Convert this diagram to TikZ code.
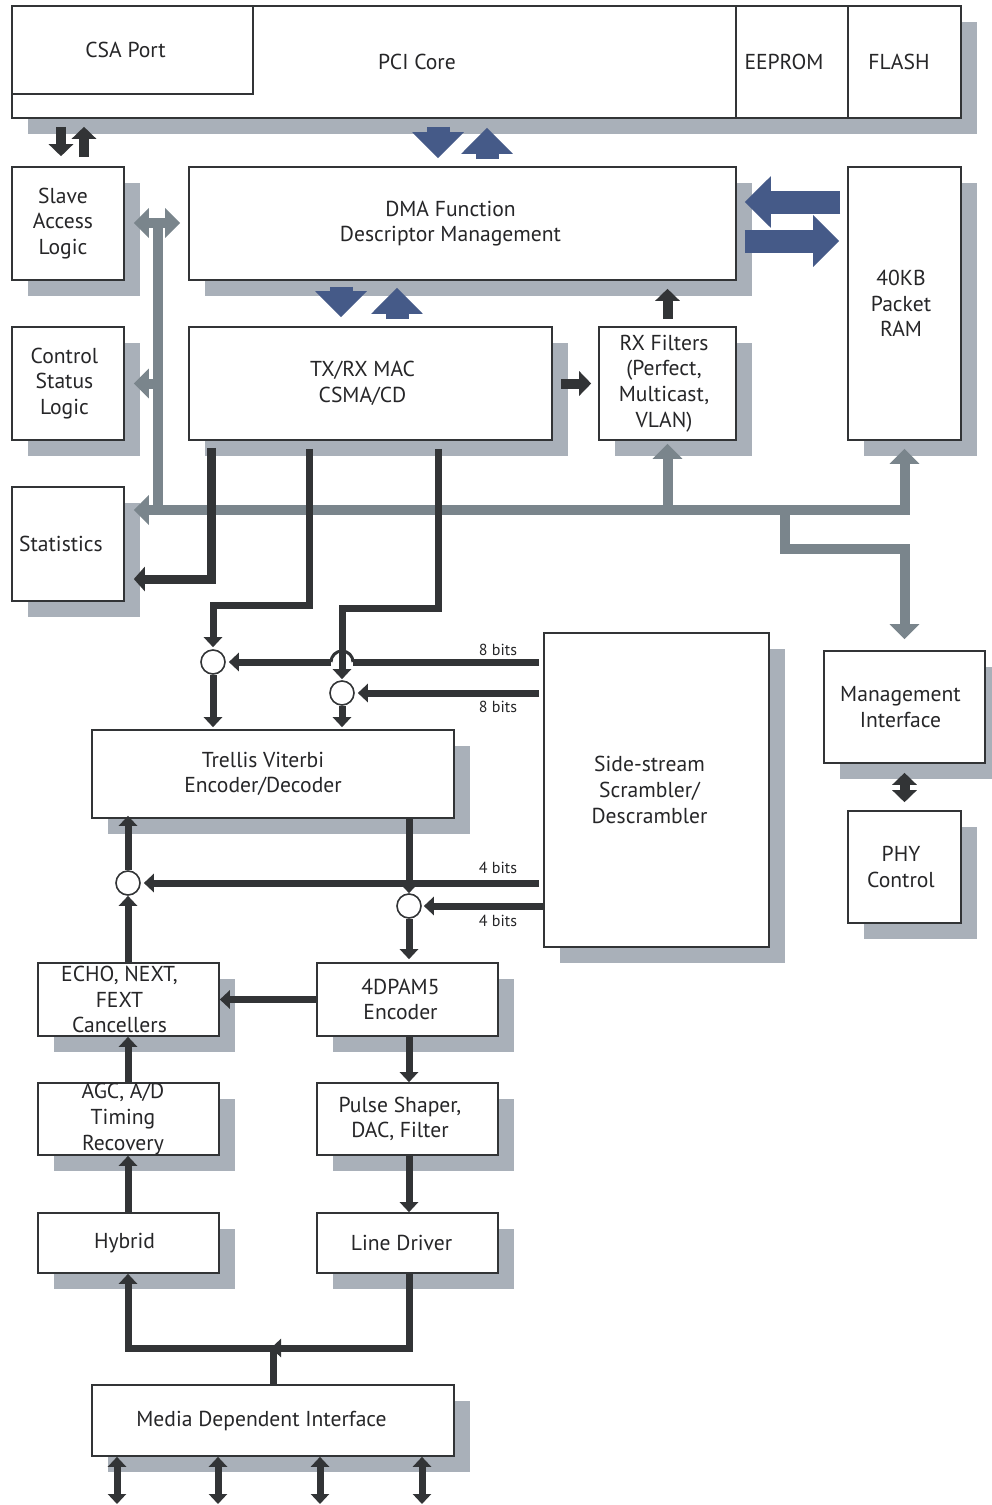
\documentclass[tikz,border=0pt]{standalone}
\usepackage{fontspec}
\setmainfont{PT Sans}
\usetikzlibrary{arrows.meta}
\usetikzlibrary{shadows}
\usetikzlibrary{calc}

\definecolor{shadowgray}{RGB}{169,176,185}
\definecolor{busgray}{RGB}{122,133,140}
\definecolor{pciblue}{RGB}{69,90,136}
\definecolor{wiredark}{RGB}{50,52,54}
\definecolor{inkdark}{RGB}{38,38,40}

\newcommand\blkfont{\fontsize{10.8}{12.8}\selectfont}
\newcommand\bitfont{\fontsize{8}{9.5}\selectfont}

\begin{document}
\begin{tikzpicture}[x=0.5pt,y=-0.5pt,
  blk/.style={draw=wiredark,line width=0.8pt,fill=white,inner sep=0pt},
  boxtext/.style={text=inkdark,align=center,font=\blkfont,inner sep=0pt},
  txt/.style 2 args={label={[boxtext,xshift=#1]center:{#2}}},
  shadowed/.style={drop shadow={shadow xshift=8pt,shadow yshift=-8pt,fill=shadowgray,opacity=1}},
  mux/.style={circle,draw=wiredark,line width=0.8pt,fill=white,minimum size=12pt,inner sep=0pt},
  bitlbl/.style={text=inkdark,font=\bitfont,inner sep=0pt},
  wire/.style={draw=wiredark,line width=3.5pt,line join=miter,>={Triangle[width=9pt,length=5pt]}},
  fatwire/.style={draw=wiredark,line width=5pt,>={Triangle[width=12pt,length=6pt]}},
  bus/.style={draw=busgray,line width=5pt,line join=miter,>={Triangle[width=14.5pt,length=7.5pt]}},
  bigarrow/.style={draw=pciblue,line width=11.5pt,-{Triangle[width=25pt,length=13pt]}}]
\useasboundingbox (0,0) rectangle (991,1505);

% top row
\node[blk,shadowed,minimum width=474.5pt,minimum height=56pt] (pci) at (486.5,62) {};
\node[blk,minimum width=120.5pt,minimum height=44pt,txt={-3.5pt}{CSA Port}] (csa) at (132.5,50) {};
\node[boxtext] (pcitext) at (417,62) {PCI Core};
\node[blk,minimum width=56pt,minimum height=56pt,txt={-4pt}{EEPROM}] (eeprom) at (792,62) {};
\node[blk,minimum width=56.5pt,minimum height=56pt,txt={-2.75pt}{FLASH}] (flash) at (904.5,62) {};

% MAC side
\node[blk,shadowed,minimum width=56pt,minimum height=56.5pt,txt={-2.5pt}{Slave\\Access\\Logic}] (slave) at (68,223.5) {};
\node[blk,shadowed,minimum width=273.5pt,minimum height=56.5pt,txt={-6pt}{DMA Function\\Descriptor Management}] (dma) at (462.5,223.5) {};
\node[blk,shadowed,minimum width=56.5pt,minimum height=136.5pt,txt={-1.75pt}{40KB\\Packet\\RAM}] (ram) at (904.5,303.5) {};
\node[blk,shadowed,minimum width=56pt,minimum height=56.5pt,txt={-1.75pt}{Control\\Status\\Logic}] (ctrl) at (68,383.5) {};
\node[blk,shadowed,minimum width=181.5pt,minimum height=56.5pt,txt={-4pt}{TX/RX MAC\\CSMA/CD}] (mac) at (370.5,383.5) {};
\node[blk,shadowed,minimum width=68.5pt,minimum height=56.5pt,txt={-1.75pt}{RX Filters\\(Perfect,\\Multicast,\\VLAN)}] (rxf) at (667.5,383.5) {};
\node[blk,shadowed,minimum width=56pt,minimum height=57pt,txt={-3.5pt}{Statistics}] (stats) at (68,544) {};

% PHY side
\node[blk,shadowed,minimum width=112.5pt,minimum height=157pt,txt={-3.5pt}{Side-stream\\Scrambler/\\Descrambler}] (side) at (656.5,790) {};
\node[blk,shadowed,minimum width=80.5pt,minimum height=56pt,txt={-2pt}{Management\\Interface}] (mgmt) at (904.5,707) {};
\node[blk,shadowed,minimum width=56.5pt,minimum height=56pt,txt={-1.75pt}{PHY\\Control}] (phy) at (904.5,867) {};
\node[blk,shadowed,minimum width=181pt,minimum height=44pt,txt={-5pt}{Trellis Viterbi\\Encoder/Decoder}] (trellis) at (273,774) {};
\node[blk,shadowed,minimum width=90.5pt,minimum height=36.5pt,txt={-4.5pt}{ECHO, NEXT,\\FEXT\\Cancellers}] (echo) at (128.5,999.5) {};
\node[blk,shadowed,minimum width=90.5pt,minimum height=36.5pt,txt={-3.5pt}{4DPAM5\\Encoder}] (pam) at (407.5,999.5) {};
\node[blk,shadowed,minimum width=90.5pt,minimum height=36pt,txt={-2.75pt}{AGC, A/D\\Timing\\Recovery}] (agc) at (128.5,1119) {};
\node[blk,shadowed,minimum width=90.5pt,minimum height=36pt,txt={-3.75pt}{Pulse Shaper,\\DAC, Filter}] (pulse) at (407.5,1119) {};
\node[blk,shadowed,minimum width=90.5pt,minimum height=30pt,txt={-2pt}{Hybrid}] (hybrid) at (128.5,1243) {};
\node[blk,shadowed,minimum width=90.5pt,minimum height=30pt,txt={-3pt}{Line Driver}] (ldrv) at (407.5,1243) {};
\node[blk,shadowed,minimum width=181pt,minimum height=35.5pt,txt={-5.75pt}{Media Dependent Interface}] (mdi) at (273,1420.5) {};

\node[mux] (c1) at (213,662) {};
\node[mux] (c2) at (342,693) {};
\node[mux] (c3) at (128,883) {};
\node[mux] (c4) at (409,906) {};

\node[bitlbl] (b8a) at (498,650) {8 bits};
\node[bitlbl] (b8b) at (498,707) {8 bits};
\node[bitlbl] (b4a) at (498,868) {4 bits};
\node[bitlbl] (b4b) at (498,921) {4 bits};

% PCI <-> DMA <-> MAC, RAM
\draw[bigarrow,shorten <=4pt,shorten >=4pt] (pci.south -| 438,0) -- (dma.north -| 438,0);
\draw[bigarrow,shorten <=3.5pt,shorten >=4.5pt] (dma.north -| 487,0) -- (pci.south -| 487,0);
\draw[bigarrow,shorten <=3pt,shorten >=4.5pt] (dma.south -| 341,0) -- (mac.north -| 341,0);
\draw[bigarrow,shorten <=3.5pt,shorten >=3.5pt] (mac.north -| 397,0) -- (dma.south -| 397,0);
\draw[bigarrow,shorten <=3.5pt,shorten >=4pt] (ram.west |- 0,202) -- (dma.east |- 0,202);
\draw[bigarrow,shorten <=4pt,shorten >=4pt] (dma.east |- 0,241) -- (ram.west |- 0,241);

\draw[fatwire,->,shorten <=4pt,shorten >=5pt] (pci.south -| 61,0) -- (slave.north -| 61,0);
\draw[fatwire,->,shorten <=4.5pt,shorten >=4pt] (slave.north -| 84,0) -- (pci.south -| 84,0);
\draw[fatwire,->,shorten <=4pt,shorten >=3.5pt] (mac.east) -- (rxf.west);
\draw[fatwire,->,shorten <=3.5pt,shorten >=4pt] (rxf.north) -- (dma.south -| rxf.north);
\draw[fatwire,<->,shorten <=4.5pt,shorten >=4pt] (mgmt.south) -- (phy.north);

% register bus
\coordinate (bustop) at (158,223);
\coordinate (busleft) at (158,510);
\coordinate (busright) at (904.5,510);
\coordinate (mgtap) at (785,510);
\draw[bus,<->,shorten <=4.5pt,shorten >=4pt] (slave.east |- bustop) -- (dma.west |- bustop);
\draw[bus] (bustop) -- (busleft);
\draw[bus,->,shorten >=4.5pt] (bustop |- ctrl.east) -- (ctrl.east);
\draw[bus,<->,shorten <=4.5pt,shorten >=4pt] (stats.east |- busleft) -- (busright) -- (ram.south);
\draw[bus,->,shorten >=1.5pt] (rxf.south |- busleft) -- (rxf.south);
\draw[bus,->,shorten >=5.5pt] (mgtap) -- ++(0,39) -| (mgmt.north);

% MAC to PHY data
\coordinate (hopr) at ($(c2 |- c1)+(11,0)$);
\coordinate (hopl) at ($(c2 |- c1)+(-11,0)$);
\draw[wire,->,line width=4.5pt,>={Triangle[width=12pt,length=5.5pt]},shorten <=3.5pt,shorten >=4.5pt] (mac.south -| 211,0) |- (stats.east |- 0,579);
\draw[wire,->,shorten <=4pt,shorten >=1pt] (mac.south -| 309.5,0) |- (c1 |- 0,605) -- (c1.north);
\draw[wire,->,shorten <=4pt,shorten >=0.5pt] (mac.south -| 438.5,0) |- (c2 |- 0,608) -- (c2.north);
\draw[wire,shorten <=2pt] (side.west |- c1) -- (hopr);
\draw[wire,line width=1.5pt] (hopr) arc[start angle=0,end angle=-180,radius=11];
\draw[wire,->,shorten >=1.5pt] (hopl) -- (c1.east);
\draw[wire,->,shorten <=2pt,shorten >=1.5pt] (side.west |- c2) -- (c2.east);
\draw[wire,->,shorten >=1pt] (c1.south) -- (trellis.north -| c1);
\draw[wire,->,shorten >=1pt] (c2.south) -- (trellis.north -| c2);
\draw[wire,->,shorten >=-1.5pt] (c3.north) -- (trellis.south -| c3);
\draw[wire,->,shorten <=2pt,shorten >=1.5pt] (side.west |- c3) -- (c3.east);
\draw[wire,->] (echo.north -| c3) -- (c3.south);
\draw[wire,->] (trellis.south -| c4) -- (c4.north);
\draw[wire,->,shorten >=1pt] (side.west |- c4) -- (c4.east);
\draw[wire,->,shorten >=1.5pt] (c4.south) -- (pam.north -| c4);

% PMA chain
\draw[wire,->] (pam.west) -- (echo.east);
\draw[wire,->] (pam.south -| c4) -- (pulse.north -| c4);
\draw[wire,->] (pulse.south -| c4) -- (ldrv.north -| c4);
\draw[wire,->] (agc.north -| c3) -- (echo.south -| c3);
\draw[wire,->] (hybrid.north -| c3) -- (agc.south -| c3);
\coordinate (mdijoin) at (273,1348);
\draw[wire,->,shorten >=-1pt] (ldrv.south -| c4) |- (mdijoin);
\draw[wire,->] (mdi.north) -- (mdijoin) -| (hybrid.south -| c3);
\foreach \px [count=\i] in {117,218,320,422} {
  \coordinate (port\i) at (\px,1504);
  \draw[wire,<->] (mdi.south -| port\i) -- (port\i);
}
\end{tikzpicture}
\end{document}
